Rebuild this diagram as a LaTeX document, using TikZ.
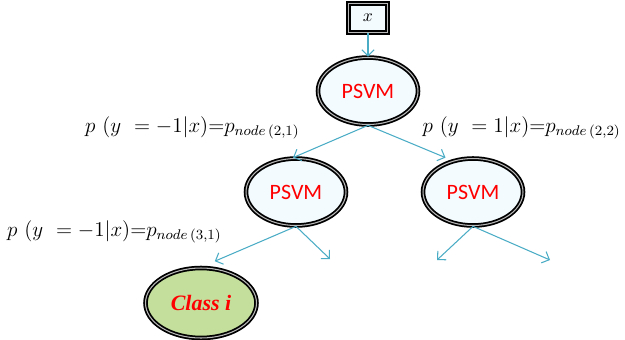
\documentclass[tikz,border=0pt]{standalone}
\usepackage{fontspec}
\newfontfamily\svmfont{Carlito}
\newfontfamily\clsfont{Liberation Serif}
\usetikzlibrary{shapes.geometric,arrows.meta}
\definecolor{edgeblue}{HTML}{4BACC6}
\definecolor{nodefill}{HTML}{F3FBFF}
\definecolor{leaffill}{HTML}{C3DF9B}
\begin{document}
\begin{tikzpicture}[x=0.02cm,y=-0.02cm,
    svm/.style={ellipse,draw=black,line width=1pt,double=gray!55,double distance=0.6pt,
      fill=nodefill,minimum width=2cm,minimum height=1.34cm,inner sep=0pt,
      text=red,font=\svmfont\fontsize{12.5}{14}\selectfont},
    leaf/.style={svm,fill=leaffill,minimum width=2.22cm,minimum height=1.4cm,
      font=\clsfont\bfseries\itshape\fontsize{12.5}{14}\selectfont},
    inbox/.style={rectangle,draw=black,line width=1pt,double=gray!55,double distance=0.6pt,
      fill=nodefill,minimum width=0.78cm,minimum height=0.58cm,inner sep=0pt},
    prob/.style={anchor=east,inner sep=0pt,font=\fontsize{12}{14}\selectfont},
    edge/.style={-{Straight Barb[length=3.5pt,width=7pt]},draw=edgeblue,line width=0.6pt}]
  \useasboundingbox (0,0) rectangle (625,339);
  \draw
    (368,18) node[inbox] (x){$x$}
    (368,91) node[svm] (n11){PSVM}
    (296,192) node[svm] (n21){PSVM}
    (473,192) node[svm] (n22){PSVM}
    (201,303) node[leaf] (cls){Class i}
    (300,128) node[prob] (p21){$p\ (y\ = -1|x){=}p_{node\,(2,1)}$}
    (621,128) node[prob] (p22){$p\ (y\ = 1|x){=}p_{node\,(2,2)}$}
    (222,232) node[prob] (p31){$p\ (y\ = -1|x){=}p_{node\,(3,1)}$};
  \coordinate (c32) at (330,259);
  \coordinate (c33) at (437,260);
  \coordinate (c34) at (550,260);
  \begin{scope}[edge]
    \draw (x) to (n11);
    \draw (n11.south) to ([xshift=-0.06cm]n21.north);
    \draw (n11.south) to ([xshift=-0.55cm]n22.north);
    \draw[shorten >=0.3cm] (n21.south) to (cls.north);
    \draw (n21.south) to (c32);
    \draw (n22.south) to (c33);
    \draw (n22.south) to (c34);
  \end{scope}
\end{tikzpicture}
\end{document}
